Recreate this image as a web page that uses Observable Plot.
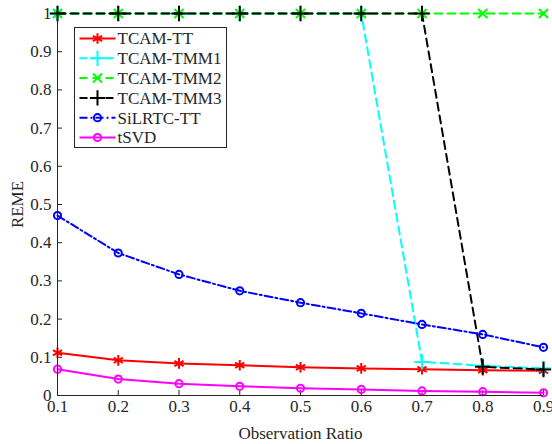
<!DOCTYPE html>
<html><head><meta charset="utf-8">
<script src="https://cdn.jsdelivr.net/npm/d3@7"></script>
<script src="https://cdn.jsdelivr.net/npm/@observablehq/plot@0.6"></script>
<style>
body{margin:0;background:#fff}
#chart{width:552px;height:444px}
#chart svg, #chart svg text{font-family:"Liberation Serif","Times New Roman",serif !important}
</style>
</head><body><div id="chart"></div>
<script>
const ratios = [0.1, 0.2, 0.3, 0.4, 0.5, 0.6, 0.7, 0.8, 0.9];
const tcamTT   = [0.112, 0.092, 0.084, 0.079, 0.074, 0.071, 0.069, 0.066, 0.065];
const tcamTMM1 = [1, 1, 1, 1, 1, 1, 0.088, 0.078, 0.071];
const tcamTMM2 = [1, 1, 1, 1, 1, 1, 1, 1, 1];
const tcamTMM3 = [1, 1, 1, 1, 1, 1, 1, 0.075, 0.068];
const silrtcTT = [0.471, 0.373, 0.317, 0.274, 0.243, 0.215, 0.186, 0.160, 0.126];
const tsvd     = [0.069, 0.043, 0.031, 0.024, 0.019, 0.016, 0.012, 0.010, 0.007];
const xTicks = [0.1, 0.2, 0.3, 0.4, 0.5, 0.6, 0.7, 0.8, 0.9];
const yTicks = [0, 0.1, 0.2, 0.3, 0.4, 0.5, 0.6, 0.7, 0.8, 0.9, 1];

const series = [
  {name: "TCAM-TT",   values: tcamTT,   color: "#ff0000", dash: null,      symbol: "asterisk", r: 5,   fill: "none"},
  {name: "TCAM-TMM1", values: tcamTMM1, color: "#00ffff", dash: "8,5",     symbol: "plus",     r: 5,   fill: "none"},
  {name: "TCAM-TMM2", values: tcamTMM2, color: "#00ff00", dash: "8,5",     symbol: "times",    r: 4.2, fill: "none"},
  {name: "TCAM-TMM3", values: tcamTMM3, color: "#000000", dash: "8,5",     symbol: "plus",     r: 5,   fill: "none"},
  {name: "SiLRTC-TT", values: silrtcTT, color: "#0000ff", dash: "8,3,2,3", symbol: "circle",   r: 3.6, fill: "none"},
  {name: "tSVD",      values: tsvd,     color: "#ff00ff", dash: null,      symbol: "circle",   r: 3.6, fill: "none"}
];

const marks = [];
for (const s of series) {
  const data = ratios.map((x, i) => ({x, y: s.values[i]}));
  marks.push(Plot.line(data, {x: "x", y: "y", stroke: s.color, strokeWidth: 2, strokeDasharray: s.dash || undefined}));
  marks.push(Plot.dot(data, {x: "x", y: "y", symbol: () => s.symbol, r: s.r, stroke: s.color, fill: "none", strokeWidth: 2}));
}

const axisColor = "#262626";
const plot = Plot.plot({
  width: 552, height: 444,
  marginLeft: 57, marginRight: 9, marginTop: 13, marginBottom: 49,
  style: {fontFamily: "'Liberation Serif', 'Times New Roman', serif", fontSize: "17px", color: axisColor, background: "#fff", overflow: "visible"},
  x: {domain: [0.1, 0.9]},
  y: {domain: [0, 1]},
  symbol: {type: "identity"},
  marks: [
    Plot.axisX({ticks: xTicks, tickSize: -5, tickPadding: 9, tickFormat: d => d3.format("~g")(d), label: "Observation Ratio", labelAnchor: "center", labelArrow: "none", labelOffset: 43, fontSize: 17}),
    Plot.axisY({ticks: yTicks, tickSize: -5, tickPadding: 11, tickFormat: d => d3.format("~g")(d), label: "REME", labelAnchor: "center", labelArrow: "none", labelOffset: 47, fontSize: 17}),
    ...marks,
    Plot.ruleY([0], {stroke: axisColor, strokeWidth: 1}),
    Plot.ruleX([0.1], {y1: 0, y2: 1, stroke: axisColor, strokeWidth: 1})
  ]
});
document.getElementById("chart").appendChild(plot);

// Legend (inside plot area, top-left)
const svg = d3.select(plot);
const lg = svg.append("g").attr("transform", "translate(74.5,27.5)");
lg.append("rect").attr("width", 152).attr("height", 120).attr("fill", "#fff").attr("stroke", axisColor).attr("stroke-width", 1);
const symMap = {asterisk: d3.symbolAsterisk, plus: d3.symbolPlus, times: d3.symbolTimes, circle: d3.symbolCircle};
series.forEach((s, i) => {
  const gy = 11 + i * 19.8;
  const row = lg.append("g").attr("transform", `translate(0,${gy})`);
  row.append("line").attr("x1", 5).attr("x2", 41).attr("y1", 0).attr("y2", 0)
    .attr("stroke", s.color).attr("stroke-width", 2).attr("stroke-dasharray", s.dash || null);
  row.append("path").attr("transform", "translate(23,0)")
    .attr("d", d3.symbol(symMap[s.symbol], Math.PI * s.r * s.r)())
    .attr("fill", "none").attr("stroke", s.color).attr("stroke-width", 2);
  row.append("text").attr("x", 43).attr("y", 0).attr("dy", "0.35em")
    .attr("text-anchor", "start").attr("font-size", 17).attr("fill", axisColor).text(s.name);
});
</script>
</body></html>
